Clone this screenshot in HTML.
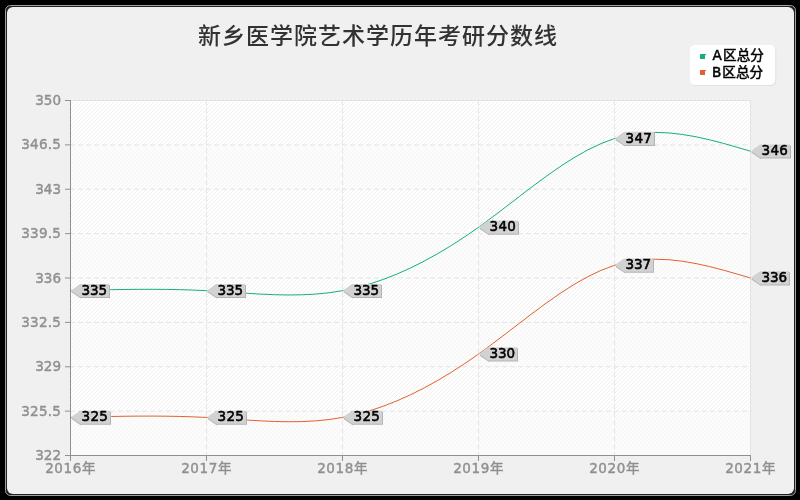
<!DOCTYPE html>
<html lang="zh-CN"><head><meta charset="utf-8"><title>新乡医学院艺术学历年考研分数线</title>
<style>
html,body{margin:0;padding:0;background:#000;width:800px;height:500px;overflow:hidden}
svg{display:block}
text{font-family:'DejaVu Sans','Noto Sans CJK SC',sans-serif}
.t{font-family:'Liberation Sans','Noto Sans CJK SC',sans-serif}
.ax{font-size:13.5px;letter-spacing:0.25px;fill:#909090;stroke:#909090;stroke-width:0.45px}
.lb{font-size:13.5px;letter-spacing:0.3px;fill:#000;stroke:#000;stroke-width:0.55px}
.lg{font-size:13.6px;fill:#000;stroke:#000;stroke-width:0.5px}
</style></head><body>
<svg width="800" height="500" viewBox="0 0 800 500">
<defs>
<pattern id="st" width="4" height="4" patternUnits="userSpaceOnUse" x="0" y="0">
<path d="M3,0h1v1h-1z M2,1h1v1h-1z M1,2h1v1h-1z M0,3h1v1h-1z" fill="#f0f0f0" shape-rendering="crispEdges"/>
</pattern>
</defs>

<rect width="800" height="500" fill="#000"/>
<rect x="5.5" y="5.5" width="790" height="490" rx="5" ry="5" fill="#202020" stroke="#a0a0a0" stroke-width="1"/>
<rect x="7" y="7" width="787" height="487" rx="6" ry="6" fill="#f0f0f0"/>
<rect x="70" y="100" width="681" height="356" fill="#ffffff"/>
<rect x="70" y="100" width="681" height="356" fill="url(#st)"/>
<rect x="71" y="144.88" width="680" height="44.38" fill="#fafafa" fill-opacity="0.5"/>
<rect x="71" y="233.62" width="680" height="44.38" fill="#fafafa" fill-opacity="0.5"/>
<rect x="71" y="322.38" width="680" height="44.38" fill="#fafafa" fill-opacity="0.5"/>
<rect x="71" y="411.12" width="680" height="44.38" fill="#fafafa" fill-opacity="0.5"/>
<path d="M70.5,100.5 H750.5 V455.5" fill="none" stroke="#e3e3e3" stroke-width="1" shape-rendering="crispEdges"/>
<g stroke="#e4e4e4" stroke-width="1" stroke-dasharray="5 3"><line x1="70" y1="144.88" x2="750" y2="144.88"/><line x1="70" y1="189.25" x2="750" y2="189.25"/><line x1="70" y1="233.62" x2="750" y2="233.62"/><line x1="70" y1="278.00" x2="750" y2="278.00"/><line x1="70" y1="322.38" x2="750" y2="322.38"/><line x1="70" y1="366.75" x2="750" y2="366.75"/><line x1="70" y1="411.12" x2="750" y2="411.12"/><line x1="206.5" y1="100" x2="206.5" y2="455"/><line x1="342.5" y1="100" x2="342.5" y2="455"/><line x1="478.5" y1="100" x2="478.5" y2="455"/><line x1="614.5" y1="100" x2="614.5" y2="455"/></g>
<g stroke="#909090" stroke-width="1"><line x1="70.5" y1="100" x2="70.5" y2="456"/><line x1="70" y1="455.5" x2="751" y2="455.5"/><line x1="65" y1="100.50" x2="70" y2="100.50"/><line x1="65" y1="144.88" x2="70" y2="144.88"/><line x1="65" y1="189.25" x2="70" y2="189.25"/><line x1="65" y1="233.62" x2="70" y2="233.62"/><line x1="65" y1="278.00" x2="70" y2="278.00"/><line x1="65" y1="322.38" x2="70" y2="322.38"/><line x1="65" y1="366.75" x2="70" y2="366.75"/><line x1="65" y1="411.12" x2="70" y2="411.12"/><line x1="65" y1="455.50" x2="70" y2="455.50"/><line x1="70.5" y1="456" x2="70.5" y2="461"/><line x1="206.5" y1="456" x2="206.5" y2="461"/><line x1="342.5" y1="456" x2="342.5" y2="461"/><line x1="478.5" y1="456" x2="478.5" y2="461"/><line x1="614.5" y1="456" x2="614.5" y2="461"/><line x1="750.5" y1="456" x2="750.5" y2="461"/></g>
<text class="ax" x="61.0" y="105" text-anchor="end" style="letter-spacing:0.00px">350</text>
<text class="ax" x="61.2" y="149" text-anchor="end" style="letter-spacing:0.25px">346.5</text>
<text class="ax" x="61.0" y="194" text-anchor="end" style="letter-spacing:0.00px">343</text>
<text class="ax" x="61.2" y="238" text-anchor="end" style="letter-spacing:0.25px">339.5</text>
<text class="ax" x="61.0" y="283" text-anchor="end" style="letter-spacing:0.00px">336</text>
<text class="ax" x="61.2" y="327" text-anchor="end" style="letter-spacing:0.25px">332.5</text>
<text class="ax" x="61.0" y="371" text-anchor="end" style="letter-spacing:0.00px">329</text>
<text class="ax" x="61.2" y="416" text-anchor="end" style="letter-spacing:0.25px">325.5</text>
<text class="ax" x="61.0" y="460" text-anchor="end" style="letter-spacing:0.00px">322</text>
<text class="ax" x="70.6" y="473" text-anchor="middle" style="letter-spacing:0.6px">2016年</text>
<text class="ax" x="206.6" y="473" text-anchor="middle" style="letter-spacing:0.6px">2017年</text>
<text class="ax" x="342.6" y="473" text-anchor="middle" style="letter-spacing:0.6px">2018年</text>
<text class="ax" x="478.6" y="473" text-anchor="middle" style="letter-spacing:0.6px">2019年</text>
<text class="ax" x="614.6" y="473" text-anchor="middle" style="letter-spacing:0.6px">2020年</text>
<text class="ax" x="750.6" y="473" text-anchor="middle" style="letter-spacing:0.6px">2021年</text>
<text class="t" x="378" y="44" font-size="23" letter-spacing="1" font-weight="500" fill="#323232" text-anchor="middle">新乡医学院艺术学历年考研分数线</text>
<polyline points="70.50,290.68 84.10,290.32 97.70,289.99 111.30,289.70 124.90,289.48 138.50,289.34 152.10,289.30 165.70,289.40 179.30,289.65 192.90,290.07 206.50,290.68 220.10,291.48 233.70,292.40 247.30,293.31 260.90,294.11 274.50,294.71 288.10,294.97 301.70,294.81 315.30,294.11 328.90,292.77 342.50,290.68 356.10,287.75 369.70,283.99 383.30,279.42 396.90,274.08 410.50,267.99 424.10,261.18 437.70,253.68 451.30,245.51 464.90,236.70 478.50,227.29 492.10,217.32 505.70,207.00 519.30,196.54 532.90,186.18 546.50,176.13 560.10,166.63 573.70,157.89 587.30,150.15 600.90,143.62 614.50,138.54 628.10,135.05 641.70,133.07 655.30,132.42 668.90,132.94 682.50,134.46 696.10,136.81 709.70,139.83 723.30,143.34 736.90,147.20 750.50,151.21" fill="none" stroke="#16af78" stroke-width="1" stroke-linejoin="round"/>
<polyline points="70.50,417.46 84.10,417.11 97.70,416.78 111.30,416.49 124.90,416.26 138.50,416.12 152.10,416.09 165.70,416.19 179.30,416.43 192.90,416.85 206.50,417.46 220.10,418.27 233.70,419.18 247.30,420.09 260.90,420.90 274.50,421.49 288.10,421.76 301.70,421.60 315.30,420.90 328.90,419.56 342.50,417.46 356.10,414.53 369.70,410.77 383.30,406.21 396.90,400.87 410.50,394.78 424.10,387.97 437.70,380.46 451.30,372.29 464.90,363.49 478.50,354.07 492.10,344.11 505.70,333.78 519.30,323.33 532.90,312.96 546.50,302.92 560.10,293.41 573.70,284.68 587.30,276.93 600.90,270.41 614.50,265.32 628.10,261.84 641.70,259.86 655.30,259.21 668.90,259.72 682.50,261.24 696.10,263.59 709.70,266.61 723.30,270.13 736.90,273.98 750.50,278.00" fill="none" stroke="#e0622c" stroke-width="1" stroke-linejoin="round"/>
<path d="M72.0,291.38 L81.0,284.98 H110.0 V298.08 H81.0 Z" fill="#b4b4b4"/>
<path d="M71.7,291.58 L81.0,297.88" stroke="#b4b4b4" stroke-width="1.2" fill="none"/>
<path d="M71.0,290.38 L80.0,283.98 H109.0 V297.08 H80.0 Z" fill="#d2d2d2"/>
<text class="lb" x="81.6" y="295" style="letter-spacing:-0.1px">335</text>
<path d="M208.0,291.38 L217.0,284.98 H246.0 V298.08 H217.0 Z" fill="#b4b4b4"/>
<path d="M207.7,291.58 L217.0,297.88" stroke="#b4b4b4" stroke-width="1.2" fill="none"/>
<path d="M207.0,290.38 L216.0,283.98 H245.0 V297.08 H216.0 Z" fill="#d2d2d2"/>
<text class="lb" x="217.6" y="295" style="letter-spacing:-0.1px">335</text>
<path d="M344.0,291.38 L353.0,284.98 H382.0 V298.08 H353.0 Z" fill="#b4b4b4"/>
<path d="M343.7,291.58 L353.0,297.88" stroke="#b4b4b4" stroke-width="1.2" fill="none"/>
<path d="M343.0,290.38 L352.0,283.98 H381.0 V297.08 H352.0 Z" fill="#d2d2d2"/>
<text class="lb" x="353.6" y="295" style="letter-spacing:-0.1px">335</text>
<path d="M480.0,227.99 L489.0,221.59 H519.0 V234.69 H489.0 Z" fill="#b4b4b4"/>
<path d="M479.7,228.19 L489.0,234.49" stroke="#b4b4b4" stroke-width="1.2" fill="none"/>
<path d="M479.0,226.99 L488.0,220.59 H518.0 V233.69 H488.0 Z" fill="#d2d2d2"/>
<text class="lb" x="489.6" y="231">340</text>
<path d="M616.0,139.24 L625.0,132.84 H655.0 V145.94 H625.0 Z" fill="#b4b4b4"/>
<path d="M615.7,139.44 L625.0,145.74" stroke="#b4b4b4" stroke-width="1.2" fill="none"/>
<path d="M615.0,138.24 L624.0,131.84 H654.0 V144.94 H624.0 Z" fill="#d2d2d2"/>
<text class="lb" x="625.6" y="143">347</text>
<path d="M752.0,151.91 L761.0,145.51 H791.0 V158.61 H761.0 Z" fill="#b4b4b4"/>
<path d="M751.7,152.11 L761.0,158.41" stroke="#b4b4b4" stroke-width="1.2" fill="none"/>
<path d="M751.0,150.91 L760.0,144.51 H790.0 V157.61 H760.0 Z" fill="#d2d2d2"/>
<text class="lb" x="761.6" y="155">346</text>
<path d="M72.0,418.16 L81.0,411.76 H111.0 V424.86 H81.0 Z" fill="#b4b4b4"/>
<path d="M71.7,418.36 L81.0,424.66" stroke="#b4b4b4" stroke-width="1.2" fill="none"/>
<path d="M71.0,417.16 L80.0,410.76 H110.0 V423.86 H80.0 Z" fill="#d2d2d2"/>
<text class="lb" x="81.6" y="421">325</text>
<path d="M208.0,418.16 L217.0,411.76 H247.0 V424.86 H217.0 Z" fill="#b4b4b4"/>
<path d="M207.7,418.36 L217.0,424.66" stroke="#b4b4b4" stroke-width="1.2" fill="none"/>
<path d="M207.0,417.16 L216.0,410.76 H246.0 V423.86 H216.0 Z" fill="#d2d2d2"/>
<text class="lb" x="217.6" y="421">325</text>
<path d="M344.0,418.16 L353.0,411.76 H383.0 V424.86 H353.0 Z" fill="#b4b4b4"/>
<path d="M343.7,418.36 L353.0,424.66" stroke="#b4b4b4" stroke-width="1.2" fill="none"/>
<path d="M343.0,417.16 L352.0,410.76 H382.0 V423.86 H352.0 Z" fill="#d2d2d2"/>
<text class="lb" x="353.6" y="421">325</text>
<path d="M480.0,354.77 L489.0,348.37 H518.0 V361.47 H489.0 Z" fill="#b4b4b4"/>
<path d="M479.7,354.97 L489.0,361.27" stroke="#b4b4b4" stroke-width="1.2" fill="none"/>
<path d="M479.0,353.77 L488.0,347.37 H517.0 V360.47 H488.0 Z" fill="#d2d2d2"/>
<text class="lb" x="489.6" y="358" style="letter-spacing:-0.1px">330</text>
<path d="M616.0,266.02 L625.0,259.62 H654.0 V272.72 H625.0 Z" fill="#b4b4b4"/>
<path d="M615.7,266.22 L625.0,272.52" stroke="#b4b4b4" stroke-width="1.2" fill="none"/>
<path d="M615.0,265.02 L624.0,258.62 H653.0 V271.72 H624.0 Z" fill="#d2d2d2"/>
<text class="lb" x="625.6" y="269" style="letter-spacing:-0.1px">337</text>
<path d="M752.0,278.70 L761.0,272.30 H790.0 V285.40 H761.0 Z" fill="#b4b4b4"/>
<path d="M751.7,278.90 L761.0,285.20" stroke="#b4b4b4" stroke-width="1.2" fill="none"/>
<path d="M751.0,277.70 L760.0,271.30 H789.0 V284.40 H760.0 Z" fill="#d2d2d2"/>
<text class="lb" x="761.6" y="282" style="letter-spacing:-0.1px">336</text>
<rect x="691" y="46" width="85.3" height="40" rx="5" fill="#e1e1e1"/>
<rect x="690" y="45" width="85.3" height="40" rx="5" fill="#ffffff"/>
<path d="M700,54 h6 v1 h-1 v4 h-5 z" fill="#16af78"/>
<path d="M700,70 h6 v1 h-1 v4 h-5 z" fill="#e0622c"/>
<text class="lg" x="712.4" y="60">A<tspan dx="1.4">区总分</tspan></text>
<text class="lg" x="712" y="77">B<tspan dx="1">区总分</tspan></text>
</svg></body></html>
